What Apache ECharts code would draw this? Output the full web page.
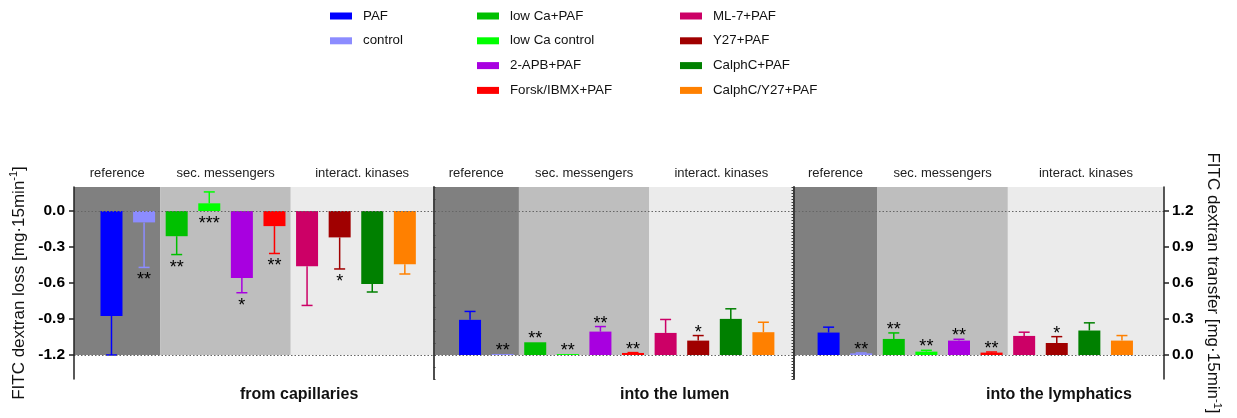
<!DOCTYPE html>
<html>
<head>
<meta charset="utf-8">
<script src="https://cdn.jsdelivr.net/npm/echarts@6/dist/echarts.min.js"></script>
<style>html,body{margin:0;padding:0;background:#fff}#c{width:1237px;height:418px}</style>
</head>
<body>
<div id="c"></div>
<script>
// ---------- data ----------
const treatments = ['PAF', 'control', 'low Ca+PAF', 'low Ca control', '2-APB+PAF', 'Forsk/IBMX+PAF',
  'ML-7+PAF', 'Y27+PAF', 'CalphC+PAF', 'CalphC/Y27+PAF'];
const treatmentColors = ['#0000FF', '#8C8CFF', '#00C000', '#00FF00', '#A800E0', '#FF0000',
  '#CC0066', '#A00000', '#008000', '#FF8000'];
const panelTitles = ['from capillaries', 'into the lumen', 'into the lymphatics'];
const groupTitles = ['reference', 'sec. messengers', 'interact. kinases'];

// FITC dextran loss from capillaries (left axis)
const capillaryMean = [-0.874, -0.095, -0.210, 0.064, -0.558, -0.126, -0.460, -0.220, -0.608, -0.444];
const capillarySem  = [0.326, 0.375, 0.153, 0.095, 0.123, 0.228, 0.327, 0.263, 0.067, 0.081];
const capillarySig  = ['', '**', '**', '***', '*', '**', '', '*', '', ''];
// FITC dextran transfer into the lumen (right axis)
const lumenMean = [0.293, 0.008, 0.106, 0.008, 0.195, 0.017, 0.184, 0.120, 0.301, 0.190];
const lumenSem  = [0.070, 0.000, 0.000, 0.000, 0.042, 0.003, 0.112, 0.042, 0.084, 0.083];
const lumenSig  = ['', '**', '**', '**', '**', '**', '', '*', '', ''];
// FITC dextran transfer into the lymphatics (right axis)
const lymphMean = [0.187, 0.014, 0.134, 0.028, 0.120, 0.020, 0.159, 0.100, 0.204, 0.120];
const lymphSem  = [0.045, 0.003, 0.050, 0.011, 0.011, 0.005, 0.031, 0.053, 0.064, 0.042];
const lymphSig  = ['', '**', '**', '**', '**', '**', '', '*', '', ''];

const leftTicks = [0, -0.3, -0.6, -0.9, -1.2];
const rightTicks = [0, 0.3, 0.6, 0.9, 1.2];

// ---------- build ----------
const FONT = '"Liberation Sans", Arial, Helvetica, sans-serif';
const SLOTS = 11;              // slots per panel (10 bars + 1 spacer)
const X_MIN = -1.15, X_MAX = 32.29;
const DIVIDERS = [9.88, 20.92];
const BAND_COLORS = ['#808080', '#BEBEBE', '#EBEBEB'];

const panels = [
  { mean: capillaryMean, sem: capillarySem, sig: capillarySig, axis: 0, dir: -1 },
  { mean: lumenMean, sem: lumenSem, sig: lumenSig, axis: 1, dir: 1 },
  { mean: lymphMean, sem: lymphSem, sig: lymphSig, axis: 1, dir: 1 }
];

const series = [];
treatments.forEach((name, i) => {
  [0, 1].forEach(axis => {
    const data = [];
    panels.forEach((pd, p) => { if (pd.axis === axis) data.push([p * SLOTS + i, pd.mean[i]]); });
    series.push({
      type: 'bar', name, yAxisIndex: axis, data,
      barWidth: 22, barGap: '-100%',
      itemStyle: { color: treatmentColors[i] },
      emphasis: { disabled: true }, silent: true
    });
  });
});

[0, 1].forEach(axis => {
  const items = [], stars = [];
  panels.forEach((pd, p) => {
    if (pd.axis !== axis) return;
    treatments.forEach((n, i) => {
      const m = pd.mean[i], s = pd.sem[i];
      const sign = m < 0 ? -1 : 1;
      items.push({ value: [p * SLOTS + i, m, m + sign * s, pd.dir, s], itemStyle: { color: treatmentColors[i] } });
      stars.push(pd.sig[i]);
    });
  });
  series.push({
    type: 'custom', yAxisIndex: axis, data: items, silent: true, z: 3,
    renderItem: (params, api) => {
      const x = api.value(0), m = api.value(1), e = api.value(2), dir = api.value(3), s = api.value(4);
      const color = api.visual('color');
      const children = [];
      if (s > 0) {
        const p0 = api.coord([x, m]), p1 = api.coord([x, e]);
        children.push({ type: 'line', shape: { x1: p0[0], y1: p0[1], x2: p1[0], y2: p1[1] }, style: { stroke: color, lineWidth: 1.5 } });
        children.push({ type: 'line', shape: { x1: p1[0] - 5.5, y1: p1[1], x2: p1[0] + 5.5, y2: p1[1] }, style: { stroke: color, lineWidth: 1.5 } });
      }
      const st = stars[params.dataIndex];
      if (st) {
        const anchor = dir < 0 ? Math.min(0, m, e) : Math.max(0, m, e);
        const pa = api.coord([x, anchor]);
        children.push({
          type: 'text',
          style: { text: st, x: pa[0], y: pa[1] + (dir < 0 ? 13 : -3), align: 'center', verticalAlign: 'middle',
            fill: '#000', font: '18px ' + FONT }
        });
      }
      return { type: 'group', children };
    }
  });
});

// background bands and dotted reference lines
const areaData = [];
panels.forEach((pd, p) => {
  const start = p === 0 ? X_MIN : DIVIDERS[p - 1];
  const end = p === panels.length - 1 ? X_MAX : DIVIDERS[p];
  const edges = [start, p * SLOTS + 1.5, p * SLOTS + 5.5, end];
  groupTitles.forEach((g, k) => {
    areaData.push([
      { name: g, xAxis: edges[k], yAxis: 0.2, itemStyle: { color: BAND_COLORS[k] } },
      { xAxis: edges[k + 1], yAxis: -1.2 }
    ]);
  });
});
series.push({
  type: 'line', yAxisIndex: 0, data: [], silent: true,
  markArea: {
    silent: true,
    label: { show: true, position: 'top', distance: 7, color: '#222', fontSize: 13, fontFamily: FONT },
    emphasis: { disabled: true },
    data: areaData
  },
  markLine: {
    silent: true, symbol: ['none', 'none'], label: { show: false }, emphasis: { disabled: true },
    data: [
      { yAxis: 0, lineStyle: { type: [1.5, 2], color: '#666', width: 1.2 } },
      { yAxis: -1.2, lineStyle: { type: [1.5, 2], color: '#666', width: 1.2 } }
    ]
  }
});

const legendBase = {
  orient: 'vertical', icon: 'rect', itemWidth: 22, itemHeight: 7, itemGap: 10.8, padding: 0,
  selectedMode: false,
  textStyle: { fontSize: 13.3, lineHeight: 14, color: '#111', fontFamily: FONT, padding: [0, 0, 0, 6] }
};

const titleRich = {
  t: { fontSize: 17, fontFamily: FONT, color: '#111', lineHeight: 20 },
  sup: { fontSize: 11, fontFamily: FONT, color: '#111', verticalAlign: 'top', lineHeight: 11 }
};

// panel divider axes (drawn inside the grid, above the bands)
function dividerAxis(offset, interval, inside, width) {
  return {
    type: 'value', position: 'left', offset, min: -1.4, max: 0.2, interval, z: 6,
    axisLine: { show: true, onZero: false, lineStyle: { color: '#3a3a3a', width } },
    axisTick: { show: true, inside, length: 2, lineStyle: { color: '#3a3a3a', width: 1 } },
    axisLabel: { show: false }, splitLine: { show: false }
  };
}

const option = {
  animation: false,
  backgroundColor: '#fff',
  legend: [
    Object.assign({}, legendBase, { left: 330, top: 9, data: treatments.slice(0, 2) }),
    Object.assign({}, legendBase, { left: 477, top: 9, data: treatments.slice(2, 6) }),
    Object.assign({}, legendBase, { left: 680, top: 9, data: treatments.slice(6, 10) })
  ],
  grid: { left: 74, right: 73, top: 187, bottom: 39, outerBoundsMode: 'none', containLabel: false },
  xAxis: {
    type: 'value', min: X_MIN, max: X_MAX,
    axisLine: { show: false }, axisTick: { show: false }, axisLabel: { show: false }, splitLine: { show: false }
  },
  yAxis: [
    {
      type: 'value', position: 'left', min: -1.4, max: 0.2, z: 6,
      axisLine: { show: true, onZero: false, lineStyle: { color: '#222', width: 1.5 } },
      axisTick: { show: true, length: 5, customValues: leftTicks, lineStyle: { color: '#222', width: 1.5 } },
      axisLabel: { customValues: leftTicks, margin: 9, color: '#000', fontSize: 15.5, fontWeight: 'bold', fontFamily: FONT,
        formatter: v => v.toFixed(1) },
      splitLine: { show: false },
      name: '{t|FITC dextran loss [mg·15min}{sup|-1}{t|]}',
      nameLocation: 'middle', nameGap: 41.5, nameRotate: 90,
      nameTextStyle: { rich: titleRich }
    },
    {
      type: 'value', position: 'right', min: -0.2, max: 1.4, z: 6,
      axisLine: { show: true, onZero: false, lineStyle: { color: '#222', width: 1.5 } },
      axisTick: { show: true, length: 5, customValues: rightTicks, lineStyle: { color: '#222', width: 1.5 } },
      axisLabel: { customValues: rightTicks, margin: 8, color: '#000', fontSize: 15.5, fontWeight: 'bold', fontFamily: FONT,
        formatter: v => v.toFixed(1) },
      splitLine: { show: false },
      name: '{t|FITC dextran transfer [mg·15min}{sup|-1}{t|]}',
      nameLocation: 'middle', nameGap: 36.5, nameRotate: -90,
      nameTextStyle: { rich: titleRich }
    },
    dividerAxis(-359.5, 0.1, true, 1.8),
    dividerAxis(-719.5, 0.025, false, 2)
  ],
  graphic: panelTitles.map((t, p) => ({
    type: 'text', left: [240, 620, 986][p], top: 387,
    style: { text: t, font: 'bold 16px ' + FONT, fill: '#111', textAlign: 'center', textVerticalAlign: 'middle' }
  })),
  series
};

const chart = echarts.init(document.getElementById('c'), null, { renderer: 'canvas' });
chart.setOption(option);
</script>
</body>
</html>
